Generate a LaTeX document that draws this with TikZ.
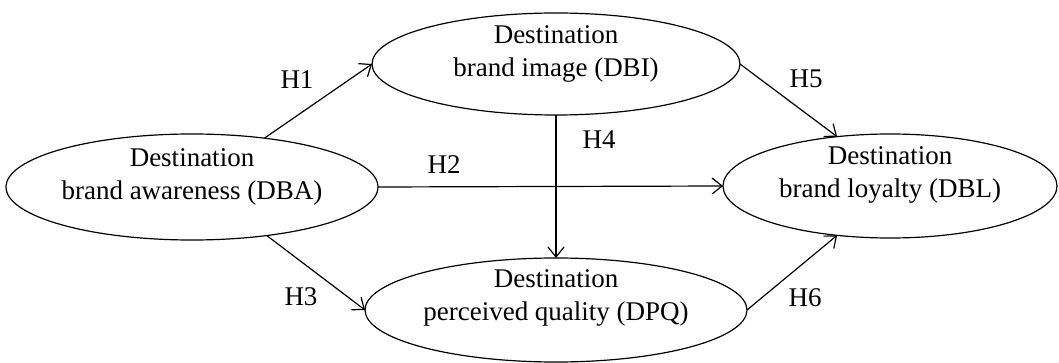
\documentclass[tikz,border=0pt]{standalone}
\usepackage{fontspec}
\setmainfont{Liberation Serif}
\usetikzlibrary{positioning,shapes.geometric,arrows.meta}
\tikzset{
    construct/.style = {
       shape=ellipse,
       draw, line width=0.6pt,
       inner sep=0pt, outer sep=0pt,
       minimum width = #1,
       minimum height = 53pt
    },
    ctext/.style = {
       align=center,
       font=\fontsize{13.5}{16.5}\selectfont
    },
    hyp/.style = {
       font=\fontsize{13.5}{16}\selectfont
    }
}

\begin{document}
\begin{tikzpicture}[x=0.5pt,y=-0.5pt,->,>={Straight Barb[length=5pt,width=8pt]},line width=0.6pt]
   \useasboundingbox (0,0) rectangle (1059,363);
   \node[construct=186pt] (DBA) at (192,187) {};
   \node[construct=184pt, minimum height=51pt] (DBI) at (556,64) {};
   \node[construct=167pt, minimum height=52pt] (DBL) at (890,186) {};
   \node[construct=191pt, minimum height=52pt] (DPQ) at (556,310) {};
   \node[ctext] (DBAtext) at (192,177) {Destination\\brand awareness (DBA)};
   \node[ctext] (DBItext) at (556,54) {Destination\\brand image (DBI)};
   \node[ctext] (DBLtext) at (890,175) {Destination\\brand loyalty (DBL)};
   \node[ctext] (DPQtext) at (556,298) {Destination\\perceived quality (DPQ)};
   \node[hyp] (H1) at (297,80) {H1};
   \node[hyp] (H2) at (444,165) {H2};
   \node[hyp] (H3) at (301,297) {H3};
   \node[hyp] (H4) at (599,140) {H4};
   \node[hyp] (H5) at (806,79) {H5};
   \node[hyp] (H6) at (805,298) {H6};
\path
(DBA.34) edge (DBI.west)
(DBA.east) edge (DBL.west)
(DBA.-33) edge (DPQ.west)
(DBI.south) edge (DPQ.north)
(DBI.east) edge (DBL.137)
(DPQ.east) edge (DBL.-137);
\end{tikzpicture}
\end{document}
